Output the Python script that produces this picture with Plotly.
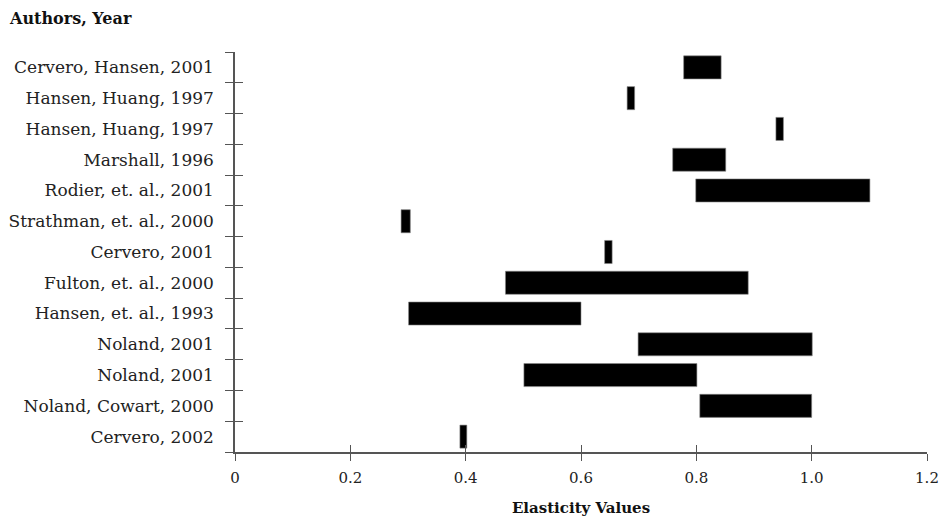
import plotly.graph_objects as go

authors = [
    "Cervero, Hansen, 2001",
    "Hansen, Huang, 1997",
    "Hansen, Huang, 1997",
    "Marshall, 1996",
    "Rodier, et. al., 2001",
    "Strathman, et. al., 2000",
    "Cervero, 2001",
    "Fulton, et. al., 2000",
    "Hansen, et. al., 1993",
    "Noland, 2001",
    "Noland, 2001",
    "Noland, Cowart, 2000",
    "Cervero, 2002",
]
low_values = [0.778, 0.680, 0.938, 0.759, 0.799, 0.288, 0.641, 0.469, 0.301, 0.699, 0.501, 0.806, 0.390]
high_values = [0.843, 0.693, 0.951, 0.851, 1.101, 0.304, 0.654, 0.890, 0.600, 1.001, 0.801, 1.000, 0.402]
x_ticks = [0, 0.2, 0.4, 0.6, 0.8, 1.0, 1.2]
x_tick_labels = ["0", "0.2", "0.4", "0.6", "0.8", "1.0", "1.2"]

rows = list(range(len(authors)))
boundaries = [r - 0.5 for r in rows] + [len(authors) - 0.5]
widths = [h - l for l, h in zip(low_values, high_values)]

FONT = "DejaVu Serif"
AXIS_COLOR = "#555555"
FIG_W = 942
FIG_H = 509

fig = go.Figure()
fig.add_trace(go.Bar(
    y=rows, x=widths, base=low_values, orientation="h",
    width=0.75,
    marker=dict(color="black", line=dict(color="#888888", width=0.6)),
    hoverinfo="skip", showlegend=False,
))
# invisible helper traces so the overlay axes (inner half of crossing ticks) are drawn
fig.add_trace(go.Scatter(x=[None], y=[None], xaxis="x2", yaxis="y", showlegend=False, hoverinfo="skip"))
fig.add_trace(go.Scatter(x=[None], y=[None], xaxis="x", yaxis="y2", showlegend=False, hoverinfo="skip"))

fig.update_layout(
    width=FIG_W, height=FIG_H,
    margin=dict(l=227, r=23, t=44, b=FIG_H - 444),
    paper_bgcolor="white", plot_bgcolor="white",
    font=dict(family=FONT, size=15, color="#222222"),
    title=dict(text="<b>Authors, Year</b>", x=2 / FIG_W, xanchor="left", y=1 - 10 / FIG_H, yanchor="middle",
               automargin=False,
               font=dict(family=FONT, size=16, color="#111111")),
    xaxis=dict(
        range=[0, 1.2], tickvals=x_ticks, ticktext=x_tick_labels,
        ticks="outside", ticklen=7, tickwidth=1.3, tickcolor=AXIS_COLOR,
        ticklabelstandoff=4, automargin=False, ticklabeloverflow="allow",
        showline=True, linecolor=AXIS_COLOR, linewidth=1.5,
        showgrid=False, zeroline=False,
        tickfont=dict(family=FONT, size=15, color="#222222"),
        title=dict(text="<b>Elasticity Values</b>", standoff=21,
                   font=dict(family=FONT, size=15, color="#111111")),
    ),
    xaxis2=dict(
        range=[0, 1.2], overlaying="x", anchor="y", side="bottom",
        tickvals=x_ticks, showticklabels=False, automargin=False,
        ticks="inside", ticklen=7, tickwidth=1.3, tickcolor=AXIS_COLOR,
        showline=False, showgrid=False, zeroline=False,
    ),
    yaxis=dict(
        range=[len(authors) - 0.5, -0.5],
        tickvals=rows, ticktext=authors, ticks="", ticklabelstandoff=16,
        automargin=False,
        minor=dict(tickvals=boundaries, ticks="outside", ticklen=8, tickwidth=1.3, tickcolor=AXIS_COLOR),
        showline=True, linecolor=AXIS_COLOR, linewidth=1.5,
        showgrid=False, zeroline=False,
        tickfont=dict(family=FONT, size=17, color="#222222"),
    ),
    yaxis2=dict(
        range=[len(authors) - 0.5, -0.5], overlaying="y", anchor="x", side="left",
        tickvals=boundaries, showticklabels=False, automargin=False,
        ticks="inside", ticklen=8, tickwidth=1.3, tickcolor=AXIS_COLOR,
        showline=False, showgrid=False, zeroline=False,
    ),
    bargap=0.25,
)

fig.write_html("out.html")
